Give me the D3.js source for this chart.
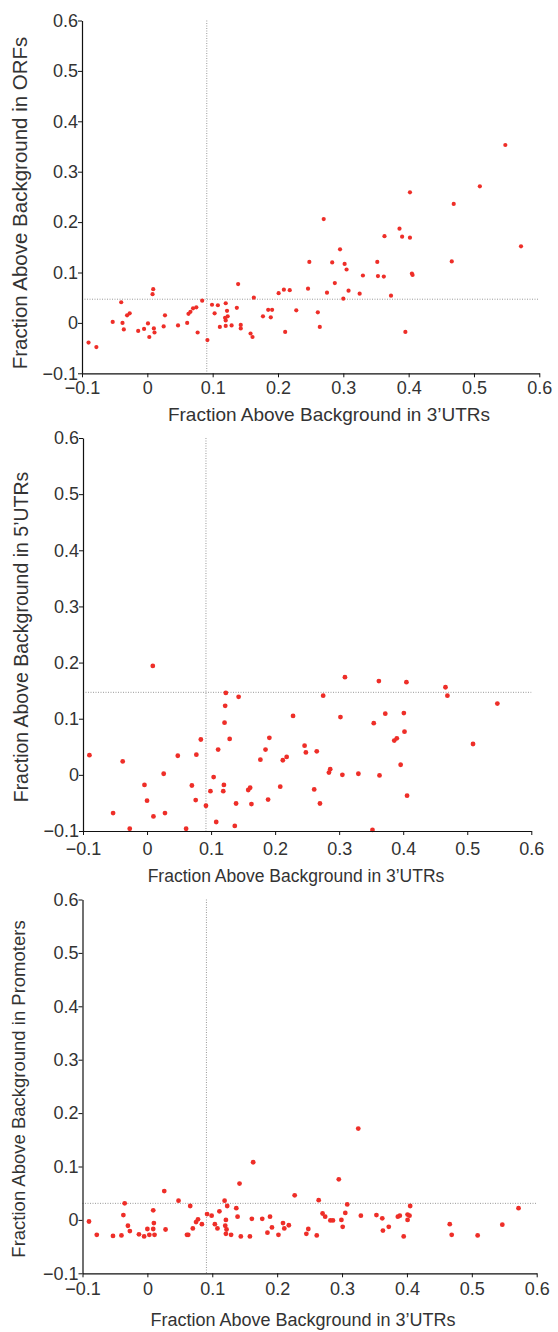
<!DOCTYPE html>
<html>
<head>
<meta charset="utf-8">
<script src="https://cdn.jsdelivr.net/npm/d3@7"></script>
<style>
  body { margin: 0; background: #fff; }
  svg { display: block; }
</style>
</head>
<body>
<svg id="chart" width="558" height="1332"></svg>
<script>
// Fraction above background, 3'UTRs vs ORFs / 5'UTRs / Promoters
// values as [x, y]

const orfPoints = [
    [-0.090, -0.039], [-0.078, -0.048], [-0.053, 0.002], [-0.040, 0.041], [-0.038, 0.000],
    [-0.036, -0.013], [-0.031, 0.015], [-0.027, 0.019], [-0.014, -0.016], [-0.005, -0.012],
    [0.001, -0.001], [0.003, -0.028], [0.009, 0.067], [0.008, 0.057], [0.010, -0.011],
    [0.011, -0.019], [0.025, -0.007], [0.027, 0.015], [0.047, -0.005], [0.061, 0.000],
    [0.063, 0.018], [0.066, 0.022], [0.070, 0.029], [0.075, 0.031], [0.077, -0.019],
    [0.084, 0.044], [0.092, -0.034], [0.099, 0.036], [0.103, 0.019], [0.108, 0.035],
    [0.111, -0.008], [0.120, 0.039], [0.122, 0.024], [0.119, 0.010], [0.123, 0.013],
    [0.120, 0.005], [0.120, -0.006], [0.129, -0.005], [0.137, 0.030], [0.139, 0.077],
    [0.143, -0.004], [0.143, -0.011], [0.158, -0.021], [0.161, -0.028], [0.163, 0.050],
    [0.177, 0.013], [0.185, 0.026], [0.189, 0.011], [0.191, 0.026], [0.201, 0.059],
    [0.209, 0.066], [0.218, 0.065], [0.211, -0.018], [0.228, 0.025], [0.246, 0.068],
    [0.248, 0.121], [0.261, 0.021], [0.264, -0.008], [0.270, 0.206], [0.275, 0.060],
    [0.283, 0.120], [0.287, 0.079], [0.295, 0.146], [0.300, 0.048], [0.302, 0.117],
    [0.305, 0.106], [0.308, 0.064], [0.325, 0.058], [0.330, 0.094], [0.352, 0.121],
    [0.353, 0.093], [0.362, 0.092], [0.363, 0.172], [0.373, 0.054], [0.386, 0.187],
    [0.390, 0.171], [0.395, -0.018], [0.402, 0.259], [0.402, 0.169], [0.405, 0.098],
    [0.406, 0.095], [0.466, 0.122], [0.469, 0.236], [0.509, 0.271], [0.548, 0.353],
    [0.572, 0.152]
];

const utr5Points = [
    [-0.090, 0.035], [-0.053, -0.068], [-0.038, 0.024], [-0.027, -0.096], [-0.004, -0.018],
    [0.000, -0.046], [0.009, 0.194], [0.010, -0.074], [0.026, 0.002], [0.028, -0.068],
    [0.048, 0.034], [0.061, -0.096], [0.070, -0.019], [0.076, -0.045], [0.077, 0.036],
    [0.084, 0.063], [0.092, -0.055], [0.099, -0.029], [0.104, -0.004], [0.108, -0.084],
    [0.111, 0.045], [0.121, 0.093], [0.122, 0.123], [0.123, 0.146], [0.119, -0.029],
    [0.120, -0.018], [0.129, 0.064], [0.137, -0.091], [0.139, -0.051], [0.143, 0.139],
    [0.158, -0.027], [0.161, -0.023], [0.163, -0.052], [0.177, 0.027], [0.185, 0.045],
    [0.189, -0.044], [0.191, 0.066], [0.208, -0.021], [0.212, 0.026], [0.218, 0.032],
    [0.228, 0.105], [0.246, 0.052], [0.248, 0.040], [0.261, -0.026], [0.265, 0.042],
    [0.270, -0.051], [0.275, 0.141], [0.284, 0.004], [0.286, 0.010], [0.302, 0.103],
    [0.305, 0.000], [0.309, 0.174], [0.330, 0.002], [0.352, -0.098], [0.354, 0.092],
    [0.362, 0.167], [0.363, -0.001], [0.372, 0.109], [0.386, 0.061], [0.390, 0.065],
    [0.396, 0.018], [0.401, 0.110], [0.402, 0.077], [0.405, 0.165], [0.406, -0.037],
    [0.466, 0.156], [0.469, 0.141], [0.509, 0.055], [0.547, 0.127]
];

const promPoints = [
    [-0.090, -0.003], [-0.078, -0.028], [-0.053, -0.030], [-0.040, -0.029], [-0.037, 0.009],
    [-0.035, 0.031], [-0.030, -0.011], [-0.027, -0.021], [-0.013, -0.027], [-0.005, -0.031],
    [0.000, -0.017], [0.003, -0.028], [0.009, 0.018], [0.010, -0.006], [0.009, -0.017],
    [0.011, -0.028], [0.026, 0.054], [0.028, -0.018], [0.048, 0.036], [0.061, -0.028],
    [0.063, -0.028], [0.066, 0.026], [0.070, -0.016], [0.075, -0.004], [0.078, 0.001],
    [0.084, -0.008], [0.092, 0.011], [0.099, 0.008], [0.104, -0.008], [0.108, -0.016],
    [0.111, 0.016], [0.119, 0.036], [0.120, -0.011], [0.121, 0.000], [0.121, -0.026],
    [0.122, -0.018], [0.123, 0.026], [0.129, -0.028], [0.137, 0.022], [0.139, 0.006],
    [0.142, 0.068], [0.144, -0.031], [0.158, -0.031], [0.161, 0.002], [0.163, 0.108],
    [0.177, 0.002], [0.185, -0.024], [0.189, 0.006], [0.192, -0.014], [0.202, -0.028],
    [0.209, -0.006], [0.211, -0.016], [0.218, -0.010], [0.227, 0.046], [0.245, -0.026],
    [0.248, -0.017], [0.261, -0.029], [0.264, 0.037], [0.270, 0.012], [0.274, 0.006],
    [0.282, -0.001], [0.286, -0.001], [0.295, 0.076], [0.299, 0.000], [0.301, -0.013],
    [0.305, 0.013], [0.308, 0.029], [0.325, 0.171], [0.329, 0.008], [0.353, 0.009],
    [0.362, 0.003], [0.363, -0.020], [0.372, -0.013], [0.386, 0.006], [0.389, 0.008],
    [0.395, -0.031], [0.401, 0.010], [0.401, 0.000], [0.404, 0.008], [0.405, 0.026],
    [0.466, -0.008], [0.469, -0.028], [0.509, -0.029], [0.547, -0.009], [0.572, 0.022]
];

const xTicks = [-0.1, 0, 0.1, 0.2, 0.3, 0.4, 0.5, 0.6];
const yTicks = [-0.1, 0, 0.1, 0.2, 0.3, 0.4, 0.5, 0.6];
const xTitle = 'Fraction Above Background in 3\u2019UTRs';
const yTitles = ['Fraction Above Background in ORFs',
                 'Fraction Above Background in 5\u2019UTRs',
                 'Fraction Above Background in Promoters'];
const vGuides = [0.091, 0.092, 0.091];   // median of 3'UTR fraction
const hGuides = [0.047, 0.147, 0.031];   // median of the other region

const panels = [
    { points: orfPoints,  x0: 82,   x1: 539.3, yTop: 20.5,  yBot: 373.3, tickPad: 4,
      xTitleX: 329, xTitleY: 414, xTitleSize: 19, yTitleX: 20, yTitleY: 203, yTitleSize: 20.5, r: 2.1 },
    { points: utr5Points, x0: 83,   x1: 531.3, yTop: 438,   yBot: 831, tickPad: 7,
      xTitleX: 296, xTitleY: 876, xTitleSize: 17.5, yTitleX: 21, yTitleY: 637, yTitleSize: 19.5, r: 2.4 },
    { points: promPoints, x0: 82.5, x1: 536.7, yTop: 899.5, yBot: 1273.3, tickPad: 5,
      xTitleX: 303, xTitleY: 1320, xTitleSize: 18, yTitleX: 19, yTitleY: 1089, yTitleSize: 18.5, r: 2.4 }
];

const svg = d3.select('#chart');
const font = '"Liberation Sans", Arial, Helvetica, sans-serif';
const fmt = v => v === 0 ? '0' : d3.format('.1f')(v).replace('-', '\u2013');

panels.forEach((p, i) => {
    const x = d3.scaleLinear().domain([-0.1, 0.6]).range([p.x0, p.x1]);
    const y = d3.scaleLinear().domain([-0.1, 0.6]).range([p.yBot, p.yTop]);

    const g = svg.append('g');

    // dotted guide lines
    g.append('line')
        .attr('x1', x(vGuides[i])).attr('x2', x(vGuides[i]))
        .attr('y1', y(0.6)).attr('y2', y(-0.1))
        .attr('stroke', '#999').attr('stroke-width', 1)
        .attr('stroke-dasharray', '1,1.5');
    g.append('line')
        .attr('x1', x(-0.1)).attr('x2', x(0.6))
        .attr('y1', y(hGuides[i])).attr('y2', y(hGuides[i]))
        .attr('stroke', '#999').attr('stroke-width', 1)
        .attr('stroke-dasharray', '1,1.5');

    // points
    g.append('g').selectAll('circle')
        .data(p.points)
        .enter()
        .append('circle')
        .attr('cx', d => x(d[0]))
        .attr('cy', d => y(d[1]))
        .attr('r', p.r)
        .attr('fill', '#ee2e28');

    // axes
    const xAxis = g.append('g')
        .attr('transform', `translate(0, ${p.yBot})`)
        .call(d3.axisBottom(x).tickValues(xTicks).tickFormat(fmt)
            .tickSize(4).tickSizeOuter(0).tickPadding(p.tickPad));
    const yAxis = g.append('g')
        .attr('transform', `translate(${p.x0}, 0)`)
        .call(d3.axisLeft(y).tickValues(yTicks).tickFormat(fmt)
            .tickSize(4).tickSizeOuter(0).tickPadding(0));

    [xAxis, yAxis].forEach(a => {
        a.select('.domain').attr('stroke', '#111').attr('stroke-width', 1.2);
        a.selectAll('.tick line').attr('stroke', '#111');
        a.selectAll('.tick text')
            .attr('fill', '#333')
            .style('font-family', font)
            .style('font-size', '18px');
    });

    // titles
    g.append('text')
        .attr('x', p.xTitleX)
        .attr('y', p.xTitleY)
        .attr('dy', '0.35em')
        .attr('text-anchor', 'middle')
        .attr('fill', '#333')
        .style('font-family', font)
        .style('font-size', p.xTitleSize + 'px')
        .text(xTitle);

    g.append('text')
        .attr('transform', `translate(${p.yTitleX}, ${p.yTitleY}) rotate(-90)`)
        .attr('dy', '0.35em')
        .attr('text-anchor', 'middle')
        .attr('fill', '#333')
        .style('font-family', font)
        .style('font-size', p.yTitleSize + 'px')
        .text(yTitles[i]);
});
</script>
</body>
</html>
